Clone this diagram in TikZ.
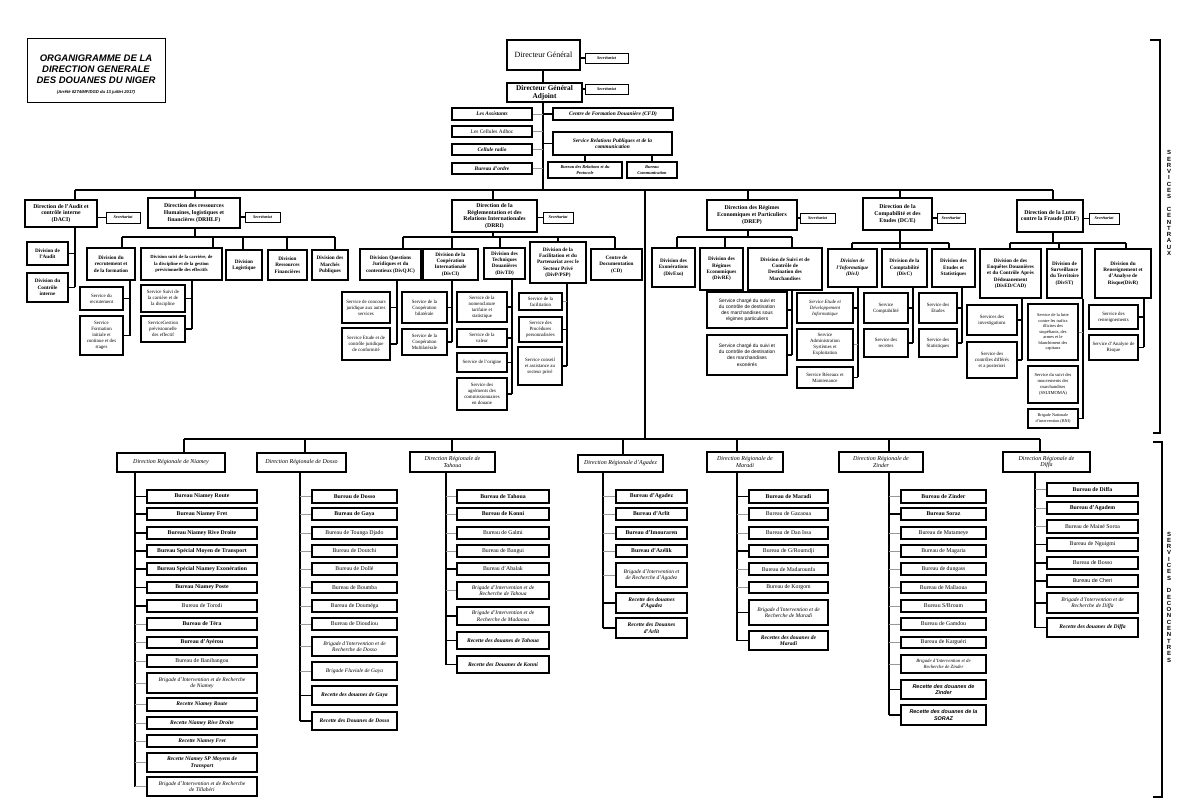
\documentclass[tikz,border=0pt]{standalone}
\usepackage{fontspec}
\setmainfont{Liberation Serif}
\newfontfamily\arialf{Liberation Sans}
\newcommand\fsz[2]{\fontsize{#1}{#2}\selectfont}
\newcommand\B[7]{\pgfmathsetmacro\myW{#5-#3}\pgfmathsetmacro\myH{#6-#4}\pgfmathsetmacro\myX{(#3+#5)/2}\pgfmathsetmacro\myY{(#4+#6)/2}\node[#1,minimum width=\myW pt,minimum height=\myH pt] (#2) at (\myX,\myY) {#7};}
% vertical from coordinate down to node top
\newcommand\Dn[3]{\coordinate (tmp) at (#1,#2); \draw[ln] (tmp) -- (tmp |- #3.north);}
% vertical from node bottom at x down to y
\newcommand\Up[4][ln]{\coordinate (tmp) at (#2,#3); \draw[#1] (tmp |- #4.south) -- (tmp);}
% stubs
\newcommand\Sw[3]{\coordinate (tmp) at (#3,0); \draw[#1] (#2.west -| tmp) -- (#2.west);}
\newcommand\Se[3]{\coordinate (tmp) at (#3,0); \draw[#1] (#2.east) -- (#2.east -| tmp);}
\newcommand\Bus[3]{\coordinate (busa) at (#1,#3); \coordinate (busb) at (#2,#3); \draw[ln] (busa) -- (busb);}
\tikzset{
 box/.style={draw, line width=1.3pt, fill=white, inner sep=0.3pt, align=center},
 dir/.style={box, font=\fsz{5.8}{6.7}\bfseries},
 dv/.style={box, font=\fsz{5.2}{6.3}\bfseries},
 dvi/.style={box, font=\fsz{5.2}{6.3}\bfseries\itshape},
 sv/.style={box, line width=1.1pt, font=\fsz{4.9}{6}},
 svi/.style={box, line width=1.1pt, font=\fsz{4.9}{6}\itshape},
 svs/.style={box, line width=1.1pt, font=\arialf\fsz{4.9}{6.2}},
 sec/.style={box, line width=0.9pt, font=\fsz{4.2}{5}\bfseries\itshape},
 bi/.style={box, font=\fsz{5.4}{6.4}\bfseries\itshape},
 rg/.style={box, font=\fsz{5.4}{6.4}},
 drs/.style={box, line width=1.5pt, font=\fsz{6}{6.9}\itshape},
 ub/.style={box, font=\fsz{5.8}{6.6}\bfseries},
 ur/.style={box, font=\fsz{5.8}{6.6}},
 ui/.style={box, font=\fsz{5.5}{6.6}\itshape},
 ubi/.style={box, font=\fsz{5.6}{6.6}\bfseries\itshape},
 usbi/.style={box, font=\arialf\fsz{5.4}{6.6}\bfseries\itshape},
 usr/.style={box, font=\arialf\fsz{5.4}{6.6}},
 ln/.style={line width=1.4pt, black},
 lg/.style={line width=0.8pt, gray!80},
 lbl/.style={font=\arialf\bfseries\fsz{6}{6.3}, align=center, inner sep=0},
}
\begin{document}
\begin{tikzpicture}[x=1pt,y=-1pt]
\useasboundingbox[fill=white] (0,0) rectangle (1200,807);
% ---------- title ----------
\node[draw, line width=1pt, minimum width=138pt, minimum height=64pt, inner sep=0] (titlebox) at (96,70) {};
\node[font=\arialf\bfseries\itshape\fsz{9.5}{11}, align=center, inner sep=0] (title) at (96,69) {ORGANIGRAMME DE LA\\DIRECTION GENERALE\\DES DOUANES DU NIGER};
\node[font=\arialf\bfseries\itshape\fsz{4.2}{5}, inner sep=0] (arrete) at (96,92) {(Arrêté 0274/MF/DGD du 13 juillet 2017)};
% ---------- brackets ----------
\coordinate (bk1) at (1150,40); \coordinate (bk2) at (1160,40); \coordinate (bk3) at (1160,433); \coordinate (bk4) at (1153,433);
\draw[ln] (bk1) -- (bk2) -- (bk3) -- (bk4);
\coordinate (bk5) at (1153,442); \coordinate (bk6) at (1162,442); \coordinate (bk7) at (1162,797); \coordinate (bk8) at (1153,797);
\draw[ln] (bk5) -- (bk6) -- (bk7) -- (bk8);
\node[lbl] (lblc) at (1169,203) {S\\E\\R\\V\\I\\C\\E\\S\\~\\C\\E\\N\\T\\R\\A\\U\\X};
\node[lbl] (lbld) at (1169,597) {S\\E\\R\\V\\I\\C\\E\\S\\~\\D\\E\\C\\O\\N\\C\\E\\N\\T\\R\\E\\S};
% ---------- top ----------
\B{box,font=\fsz{8}{9}}{dg}{507}{40}{580}{70}{Directeur Général}
\B{sec}{secdg}{585}{53}{628}{63}{Secrétariat}
\B{box,font=\fsz{7.3}{8.4}\bfseries}{dga}{507}{83}{582}{102}{Directeur Général\\Adjoint}
\B{sec}{secdga}{585}{84}{628}{94}{Secrétariat}
\B{bi}{assist}{452}{108}{532}{120}{Les Assistants}
\B{bi}{cfd}{553}{108}{673}{120}{Centre de Formation Douanière (CFD)}
\B{rg}{adhoc}{452}{126}{532}{137}{Les Cellules Adhoc}
\B{bi}{srp}{553}{132}{672}{155}{Service Relations Publiques et de la\\communication}
\B{bi}{radio}{452}{144}{532}{155}{Cellule radio}
\B{bi}{ordre}{452}{163}{532}{174}{Bureau d'ordre}
\B{box,font=\fsz{4.4}{5.6}\bfseries\itshape}{brp}{548}{162}{622}{178}{Bureau des Relations et du\\Protocole}
\B{box,font=\fsz{4.4}{5.6}\bfseries\itshape}{bcom}{627}{162}{677}{178}{Bureau\\Communication}
\coordinate (t1) at (543,190);
\draw[ln] (dg.south -| t1) -- (dga.north -| t1);
\draw[ln] (dga.south -| t1) -- (t1);
\draw[ln] (dg.east |- secdg) -- (secdg.west);
\draw[ln] (dga.east |- secdga) -- (secdga.west);
\Se{lg}{assist}{543} \Se{lg}{adhoc}{543} \Se{lg}{radio}{543} \Se{lg}{ordre}{543}
\Sw{ln}{cfd}{543} \Sw{ln}{srp}{543}
\draw[ln] (srp.south -| brp.north) -- (brp.north);
\draw[ln] (srp.south -| bcom.north) -- (bcom.north);
% ---------- level 1 bus ----------
\Bus{75}{1053}{190}
\coordinate (t2) at (645,190); \coordinate (t3) at (645,439);
\draw[ln] (t2) -- (t3);
% ---------- DACI ----------
\B{dir}{daci}{25}{200}{97}{227}{Direction de l'Audit et\\contrôle interne\\(DACI)}
\B{sec}{secdaci}{106}{212}{140}{223}{Secrétariat}
\B{dv}{divaudit}{27}{242}{68}{265}{Division de\\l'Audit}
\B{dv}{divctl}{27}{273}{68}{302}{Division du\\Contrôle\\interne}
\Dn{75}{190}{daci}
\draw[ln] (daci.east |- secdaci) -- (secdaci.west);
\Up{75}{287}{daci}
\Se{ln}{divaudit}{75} \Se{ln}{divctl}{75}
% ---------- DRHLF ----------
\B{dir}{drhlf}{148}{198}{240}{228}{Direction des ressources\\Humaines, logistiques et\\financières (DRHLF)}
\B{sec}{secdrh}{245}{212}{280}{222}{Secrétariat}
\Dn{195}{190}{drhlf}
\draw[ln] (drhlf.east |- secdrh) -- (secdrh.west);
\Up{195}{237}{drhlf}
\Bus{122}{335}{237}
\B{dv}{dvrec}{87}{248}{135}{280}{Division du\\recrutement et\\de la formation}
\B{box,font=\fsz{4.7}{6.2}\bfseries}{dvsuivi}{141}{248}{222}{280}{Division suivi de la carrière, de\\la discipline et de la gestion\\prévisionnelle des effectifs}
\B{dv}{dvlog}{226}{250}{262}{280}{Division\\Logistique}
\B{dv}{dvrf}{268}{250}{307}{280}{Division\\Ressources\\Financières}
\B{dv}{dvmp}{312}{250}{348}{280}{Division des\\Marchés\\Publiques}
\Dn{122}{237}{dvrec} \Dn{213}{237}{dvsuivi} \Dn{243}{237}{dvlog} \Dn{287}{237}{dvrf} \Dn{335}{237}{dvmp}
\B{sv}{svrec}{80}{287}{123}{310}{Service du\\recrutement}
\B{sv}{svform}{80}{316}{123}{355}{Service\\Formation\\initiale et\\continue et des\\stages}
\Up{130}{336}{dvrec} \Se{ln}{svrec}{130} \Se{ln}{svform}{130}
\B{sv}{svsuivi}{141}{285}{185}{312}{Service Suivi de\\la carrière et de\\la discipline}
\B{sv}{svgest}{141}{316}{185}{342}{ServiceGestion\\prévisionnelle\\des effectif}
\Up{192}{329}{dvsuivi} \Se{ln}{svsuivi}{192} \Se{ln}{svgest}{192}
% ---------- DRRI ----------
\B{dir}{drri}{452}{200}{537}{232}{Direction de la\\Réglementation et des\\Relations Internationales\\(DRRI)}
\B{sec}{secdrri}{543}{212}{573}{223}{Secrétariat}
\Dn{493}{190}{drri}
\draw[ln] (drri.east |- secdrri) -- (secdrri.west);
\Up{493}{237}{drri}
\Bus{403}{615}{237}
\B{dv}{dvqjc}{360}{249}{421}{280}{Division Questions\\Juridiques et du\\contentieux (DivQJC)}
\B{dv}{dvci}{423}{249}{478}{280}{Division de la\\Coopération\\Internationale\\(DivCI)}
\B{dv}{dvtd}{484}{248}{525}{279}{Division des\\Techniques\\Douanières\\(DivTD)}
\B{dv}{dvfp}{530}{242}{586}{283}{Division de la\\Facilitation et du\\Partenariat avec le\\Secteur Privé\\(DivP/PSP)}
\B{dv}{cd}{591}{249}{642}{280}{Centre de\\Documentation\\(CD)}
\Dn{403}{237}{dvqjc} \Dn{452}{237}{dvci} \Dn{500}{237}{dvtd} \Dn{558}{237}{dvfp} \Dn{615}{237}{cd}
\B{sv}{svcj}{342}{292}{390}{323}{Service de concours\\juridique aux autres\\services}
\B{sv}{svej}{342}{328}{390}{360}{Service Etude et de\\contrôle juridique\\de conformité}
\Up{397}{344}{dvqjc} \Se{ln}{svcj}{397} \Se{ln}{svej}{397}
\B{sv}{svbil}{402}{292}{447}{323}{Service de la\\Coopération\\bilatérale}
\B{sv}{svmul}{402}{329}{447}{355}{Service de la\\Coopération\\Multilatérale}
\Up{452}{342}{dvci} \Se{ln}{svbil}{452} \Se{ln}{svmul}{452}
\B{sv}{svnom}{457}{292}{507}{322}{Service de la\\nomenclature\\tarifaire et\\statistique}
\B{sv}{svval}{457}{329}{507}{347}{Service de la\\valeur}
\B{sv}{svori}{457}{353}{507}{372}{Service de l'origine}
\B{sv}{svagr}{457}{378}{507}{410}{Service des\\agréments des\\commissionnaires\\en douane}
\Up{512}{394}{dvtd} \Se{ln}{svnom}{512} \Se{ln}{svval}{512} \Se{ln}{svori}{512} \Se{ln}{svagr}{512}
\B{sv}{svfac}{519}{293}{562}{310}{Service de la\\facilitation}
\B{sv}{svpro}{519}{317}{562}{342}{Service des\\Procédures\\personnalisées}
\B{sv}{svcon}{518}{347}{562}{385}{Service conseil\\et assistance au\\secteur privé}
\Up{567}{366}{dvfp} \Se{lg}{svfac}{567} \Se{ln}{svpro}{567} \Se{ln}{svcon}{567}
% ---------- DREP ----------
\B{dir}{drep}{707}{200}{797}{230}{Direction des Régimes\\Economiques et Particuliers\\(DREP)}
\B{sec}{secdrep}{800}{213}{835}{223}{Secrétariat}
\Dn{748}{190}{drep}
\draw[ln] (drep.east |- secdrep) -- (secdrep.west);
\Up{748}{237}{drep}
\Bus{677}{792}{237}
\B{dv}{dvexo}{652}{248}{695}{287}{Division des\\Exonérations\\(DivExo)}
\B{dv}{dvre}{700}{248}{743}{290}{Division des\\Régimes\\Economiques\\(DivRE)}
\B{dv}{dvscdm}{748}{248}{822}{290}{Division de Suivi et de\\Contrôle de\\Destination des\\Marchandises}
\Dn{677}{237}{dvexo} \Dn{725}{237}{dvre} \Dn{792}{237}{dvscdm}
\B{svs}{svrp}{707}{292}{787}{328}{Service chargé du suivi et\\du contrôle de destination\\des marchandises sous\\régimes particuliers}
\B{svs}{svexo}{707}{335}{787}{375}{Service chargé du suivi et\\du contrôle de destination\\des marchandises\\exonérés}
\Up{792}{355}{dvscdm} \Se{ln}{svrp}{792} \Se{ln}{svexo}{792}
% ---------- DCE ----------
\B{dir}{dce}{863}{198}{932}{230}{Direction de la\\Compabilité et des\\Etudes (DC/E)}
\B{sec}{secdce}{937}{213}{965}{223}{Secrétariat}
\Dn{900}{190}{dce}
\draw[ln] (dce.east |- secdce) -- (secdce.west);
\Up{900}{243}{dce}
\Bus{852}{949}{243}
\B{dvi}{dvinf}{828}{249}{877}{287}{Division de\\l'Informatique\\(DivI)}
\B{dv}{dvc}{882}{249}{927}{287}{Division de la\\Comptabilité\\(DivC)}
\B{dv}{dves}{932}{249}{975}{287}{Division des\\Etudes et\\Statistiques}
\Dn{852}{243}{dvinf} \Dn{900}{243}{dvc} \Dn{949}{243}{dves}
\B{svi}{svedi}{797}{293}{853}{323}{Service Etude et\\Développement\\Informatique}
\B{sv}{svase}{797}{329}{853}{360}{Service\\Administration\\Systèmes et\\Exploitation}
\B{sv}{svrm}{797}{367}{853}{388}{Service Réseaux et\\Maintenance}
\Up{858}{377}{dvinf} \Se{ln}{svedi}{858} \Se{lg}{svase}{858} \Se{ln}{svrm}{858}
\B{sv}{svcpt}{864}{293}{908}{323}{Service\\Comptabilité}
\B{sv}{svrct}{864}{329}{908}{357}{Service des\\recettes}
\Up{913}{343}{dvc} \Se{ln}{svcpt}{913} \Se{ln}{svrct}{913}
\B{sv}{svetu}{919}{293}{957}{323}{Service des\\Etudes}
\B{sv}{svsta}{919}{329}{957}{357}{Service des\\Statistiques}
\Up{962}{343}{dves} \Se{ln}{svetu}{962} \Se{ln}{svsta}{962}
% ---------- DLF ----------
\B{dir}{dlf}{1017}{200}{1083}{232}{Direction de la Lutte\\contre la Fraude (DLF)}
\B{sec}{secdlf}{1089}{213}{1119}{224}{Secrétariat}
\Dn{1053}{190}{dlf}
\draw[ln] (dlf.east |- secdlf) -- (secdlf.west);
\Up{1053}{243}{dlf}
\Bus{1010}{1126}{243}
\B{dv}{dved}{980}{249}{1041}{298}{Division de des\\Enquêtes Douanières\\et du Contrôle Après\\Dédouanement\\(DivED/CAD)}
\B{dv}{dvst}{1047}{249}{1082}{298}{Division de\\Surveillance\\du Territoire\\(DivST)}
\B{dv}{dvr}{1095}{249}{1151}{298}{Division du\\Renseignement et\\d'Analyse de\\Risque(DivR)}
\Dn{1010}{243}{dved} \Dn{1059}{243}{dvst} \Dn{1126}{243}{dvr}
\B{sv}{svinv}{967}{305}{1017}{335}{Services des\\investigations}
\B{sv}{svcd}{967}{342}{1017}{378}{Service des\\contrôles différés\\et a posteriori}
\Up{1022}{360}{dved} \Se{ln}{svinv}{1022} \Se{ln}{svcd}{1022}
\B{box,line width=1.1pt,font=\fsz{4.4}{5.5}}{svlt}{1028}{304}{1078}{360}{Service de la lutte\\contre les trafics\\illicites des\\stupéfiants, des\\armes et le\\blanchiment des\\capitaux}
\B{box,line width=1.1pt,font=\fsz{4.6}{5.8}}{svmm}{1028}{366}{1078}{403}{Service du suivi des\\mouvements des\\marchandises\\(SSUIMOMA)}
\B{box,line width=1.1pt,font=\fsz{4.2}{5.4}}{svbni}{1028}{409}{1078}{428}{Brigade Nationale\\d'intervention (BNI)}
\Up{1083}{419}{dvst} \Se{lg}{svlt}{1083} \Se{ln}{svbni}{1083}
\B{sv}{svren}{1089}{305}{1138}{329}{Service des\\renseignements}
\B{sv}{svar}{1089}{335}{1138}{360}{Service d'Analyse de\\Risque}
\Up{1144}{347}{dvr} \Se{ln}{svren}{1144} \Se{ln}{svar}{1144}
% ---------- regional bus ----------
\Bus{184}{1040}{439}
\B{drs}{drni}{117}{453}{225}{472}{Direction Régionale de Niamey}
\B{drs}{drdo}{257}{453}{346}{472}{Direction Régionale de Dosso}
\B{drs}{drta}{410}{452}{495}{472}{Direction Régionale de\\Tahoua}
\B{drs}{drag}{578}{455}{663}{472}{Direction Régionale d'Agadez}
\B{drs}{drma}{707}{452}{783}{472}{Direction Régionale de\\Maradi}
\B{drs}{drzi}{839}{452}{923}{472}{Direction Régionale de\\Zinder}
\B{drs}{drdi}{1003}{452}{1090}{472}{Direction Régionale de\\Diffa}
\Dn{184}{439}{drni} \Dn{305}{439}{drdo} \Dn{452}{439}{drta} \Dn{623}{439}{drag} \Dn{737}{439}{drma} \Dn{889}{439}{drzi} \Dn{1040}{439}{drdi}
% ---------- Niamey ----------
\B{ub}{ni1}{147}{490}{257}{503}{Bureau Niamey Route}
\B{ub}{ni2}{147}{508}{257}{520}{Bureau Niamey Fret}
\B{ub}{ni3}{147}{527}{257}{539}{Bureau Niamey Rive Droite}
\B{ub}{ni4}{147}{545}{257}{557}{Bureau Spécial Moyen de Transport}
\B{ub}{ni5}{147}{563}{257}{575}{Bureau Spécial Niamey Exonération}
\B{ub}{ni6}{147}{582}{257}{593}{Bureau Niamey Poste}
\B{ur}{ni7}{147}{600}{257}{612}{Bureau de Torodi}
\B{ub}{ni8}{147}{618}{257}{630}{Bureau de Téra}
\B{ub}{ni9}{147}{637}{257}{648}{Bureau d'Ayérou}
\B{ur}{ni10}{147}{655}{257}{667}{Bureau de Banibangou}
\B{ui}{ni11}{147}{673}{257}{693}{Brigade d'Intervention et de Recherche\\de Niamey}
\B{ubi}{ni12}{147}{698}{257}{711}{Recette Niamey Route}
\B{ubi}{ni13}{147}{717}{257}{729}{Recette Niamey Rive Droite}
\B{ubi}{ni14}{147}{735}{257}{747}{Recette Niamey Fret}
\B{ubi}{ni15}{147}{753}{257}{772}{Recette Niamey SP Moyens de\\Transport}
\B{ui}{ni16}{147}{777}{257}{796}{Brigade d'Intervention et de Recherche\\de Tillabéri}
\Up{135}{786.5}{drni}
\Sw{ln}{ni1}{135} \Sw{ln}{ni2}{135} \Sw{ln}{ni3}{135} \Sw{ln}{ni4}{135} \Sw{ln}{ni5}{135} \Sw{ln}{ni6}{135} \Sw{ln}{ni7}{135}
\Sw{lg}{ni8}{135} \Sw{lg}{ni9}{135} \Sw{lg}{ni10}{135} \Sw{lg}{ni11}{135} \Sw{lg}{ni12}{135} \Sw{lg}{ni13}{135} \Sw{lg}{ni14}{135} \Sw{lg}{ni15}{135} \Sw{lg}{ni16}{135}
% ---------- Dosso ----------
\B{ub}{do1}{312}{490}{397}{503}{Bureau de Dosso}
\B{ub}{do2}{312}{508}{397}{520}{Bureau de Gaya}
\B{ur}{do3}{312}{527}{397}{539}{Bureau de Tounga Djado}
\B{ur}{do4}{312}{545}{397}{557}{Bureau de Doutchi}
\B{ur}{do5}{312}{563}{397}{575}{Bureau de Dollé}
\B{ur}{do6}{312}{582}{397}{593}{Bureau de Boumba}
\B{ur}{do7}{312}{600}{397}{612}{Bureau de Douméga}
\B{ur}{do8}{312}{618}{397}{630}{Bureau de Dioudiou}
\B{ui}{do9}{312}{637}{397}{656}{Brigade d'Intervention et de\\Recherche de Dosso}
\B{ui}{do10}{312}{662}{397}{680}{Brigade Fluviale de Gaya}
\B{ubi}{do11}{312}{686}{397}{705}{Recette des douanes de Gaya}
\B{ubi}{do12}{312}{712}{397}{730}{Recette des Douanes de Dosso}
\Up{300}{721}{drdo}
\Sw{lg}{do1}{300} \Sw{lg}{do2}{300} \Sw{lg}{do3}{300} \Sw{lg}{do4}{300} \Sw{lg}{do5}{300} \Sw{lg}{do6}{300} \Sw{lg}{do7}{300} \Sw{lg}{do8}{300} \Sw{lg}{do9}{300} \Sw{lg}{do10}{300}
\Sw{ln}{do11}{300} \Sw{ln}{do12}{300}
% ---------- Tahoua ----------
\B{ub}{ta1}{457}{490}{549}{503}{Bureau de Tahoua}
\B{ub}{ta2}{457}{508}{549}{520}{Bureau de Konni}
\B{ur}{ta3}{457}{527}{549}{539}{Bureau de Galmi}
\B{ur}{ta4}{457}{545}{549}{557}{Bureau de Bangui}
\B{ur}{ta5}{457}{563}{549}{575}{Bureau d'Abalak}
\B{ui}{ta6}{457}{582}{549}{599}{Brigade d'Intervention et de\\Recherche de Tahoua}
\B{ui}{ta7}{457}{607}{549}{625}{Brigade d'Intervention et de\\Recherche de Madaoua}
\B{ubi}{ta8}{457}{632}{549}{649}{Recette des douanes de Tahoua}
\B{ubi}{ta9}{457}{656}{549}{673}{Recette des Douanes de Konni}
\Up{446}{664.5}{drta}
\Sw{lg}{ta1}{446} \Sw{lg}{ta2}{446} \Sw{lg}{ta3}{446} \Sw{lg}{ta4}{446} \Sw{ln}{ta5}{446} \Sw{lg}{ta6}{446} \Sw{ln}{ta7}{446} \Sw{ln}{ta8}{446} \Sw{ln}{ta9}{446}
% ---------- Agadez ----------
\B{ub}{ag1}{616}{490}{687}{503}{Bureau d'Agadez}
\B{ub}{ag2}{616}{508}{687}{520}{Bureau d'Arlit}
\B{ub}{ag3}{616}{527}{687}{539}{Bureau d'Imouraren}
\B{ub}{ag4}{616}{545}{687}{557}{Bureau d'Azélik}
\B{ui}{ag5}{616}{563}{687}{587}{Brigade d'Intervention et\\de Recherche d'Agadez}
\B{ubi}{ag6}{616}{593}{687}{613}{Recette des douanes\\d'Agadez}
\B{ubi}{ag7}{616}{618}{687}{638}{Recette des Douanes\\d'Arlit}
\Up{603}{628}{drag}
\Sw{lg}{ag1}{603} \Sw{lg}{ag2}{603} \Sw{lg}{ag3}{603} \Sw{lg}{ag4}{603} \Sw{lg}{ag5}{603} \Sw{ln}{ag6}{603} \Sw{ln}{ag7}{603}
% ---------- Maradi ----------
\B{ub}{ma1}{749}{490}{828}{503}{Bureau de Maradi}
\B{ur}{ma2}{749}{508}{828}{520}{Bureau de Gazaoua}
\B{ur}{ma3}{749}{527}{828}{539}{Bureau de Dan Issa}
\B{ur}{ma4}{749}{545}{828}{557}{Bureau de G/Roumdji}
\B{ur}{ma5}{749}{563}{828}{575}{Bureau de Madarounfa}
\B{ur}{ma6}{749}{582}{828}{593}{Bureau de Korgom}
\B{ui}{ma7}{749}{600}{828}{625}{Brigade d'Intervention et de\\Recherche de Maradi}
\B{ubi}{ma8}{749}{631}{828}{650}{Recettes des douanes de\\Maradi}
\Up{737}{640.5}{drma}
\Sw{ln}{ma1}{737} \Sw{lg}{ma2}{737} \Sw{lg}{ma3}{737} \Sw{ln}{ma4}{737} \Sw{lg}{ma5}{737} \Sw{lg}{ma6}{737} \Sw{ln}{ma7}{737} \Sw{ln}{ma8}{737}
% ---------- Zinder ----------
\B{ub}{zi1}{901}{490}{986}{503}{Bureau de Zinder}
\B{ub}{zi2}{901}{508}{986}{520}{Bureau Soraz}
\B{ur}{zi3}{901}{527}{986}{539}{Bureau de Matameye}
\B{ur}{zi4}{901}{545}{986}{557}{Bureau de Magaria}
\B{ur}{zi5}{901}{563}{986}{575}{Bureau de dungass}
\B{ur}{zi6}{901}{582}{986}{593}{Bureau de Mallaoua}
\B{ur}{zi7}{901}{600}{986}{612}{Bureau S/Broum}
\B{ur}{zi8}{901}{618}{986}{630}{Bureau de Gamdou}
\B{ur}{zi9}{901}{637}{986}{648}{Bureau de Karguéri}
\B{box,font=\fsz{4.8}{6}\itshape}{zi10}{901}{655}{986}{673}{Brigade d'Intervention et de\\Recherche de Zinder}
\B{usbi}{zi11}{901}{680}{986}{699}{Recette des douanes de\\Zinder}
\B{usbi}{zi12}{901}{705}{986}{725}{Recette des douanes de la\\SORAZ}
\Up{889}{715}{drzi}
\Sw{lg}{zi1}{889} \Sw{ln}{zi2}{889} \Sw{lg}{zi3}{889} \Sw{lg}{zi4}{889} \Sw{lg}{zi5}{889} \Sw{lg}{zi6}{889} \Sw{lg}{zi7}{889} \Sw{lg}{zi8}{889} \Sw{lg}{zi9}{889} \Sw{lg}{zi10}{889} \Sw{ln}{zi11}{889} \Sw{ln}{zi12}{889}
% ---------- Diffa ----------
\B{ub}{di1}{1047}{483}{1138}{496}{Bureau de Diffa}
\B{ub}{di2}{1047}{502}{1138}{514}{Bureau d'Agadem}
\B{ur}{di3}{1047}{520}{1138}{533}{Bureau de Mainé Soroa}
\B{ur}{di4}{1047}{538}{1138}{551}{Bureau de Nguigmi}
\B{ur}{di5}{1047}{557}{1138}{569}{Bureau de Bosso}
\B{usr}{di6}{1047}{575}{1138}{587}{Bureau de Cheri}
\B{ui}{di7}{1047}{593}{1138}{613}{Brigade d'Intervention et de\\Recherche de Diffa}
\B{ubi}{di8}{1047}{618}{1138}{637}{Recette des douanes de Diffa}
\Up{1035}{627.5}{drdi}
\Sw{lg}{di1}{1035} \Sw{lg}{di2}{1035} \Sw{lg}{di3}{1035} \Sw{ln}{di4}{1035} \Sw{ln}{di5}{1035} \Sw{ln}{di6}{1035} \Sw{ln}{di7}{1035} \Sw{ln}{di8}{1035}
\end{tikzpicture}
\end{document}
